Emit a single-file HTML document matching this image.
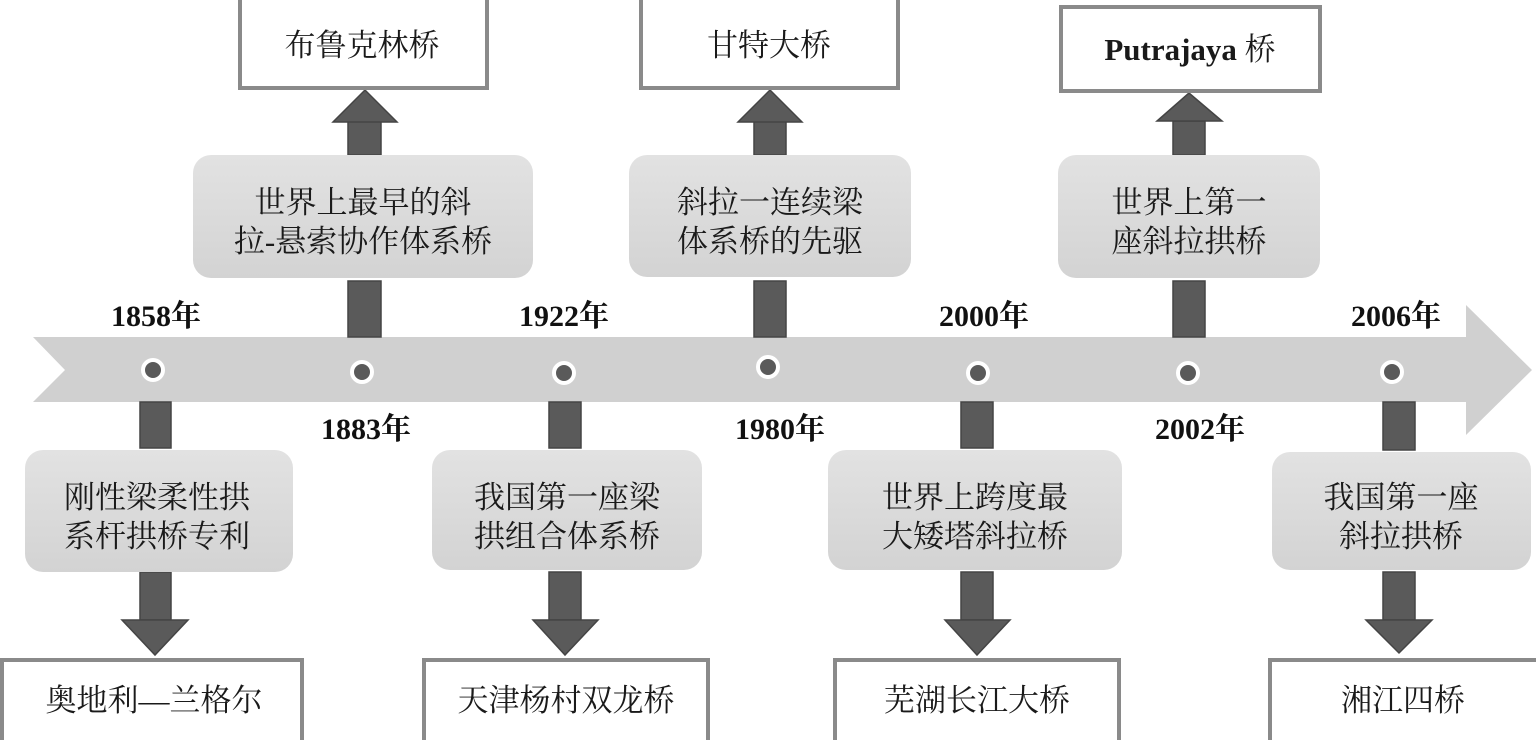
<!DOCTYPE html>
<html><head><meta charset="utf-8"><style>
html,body{margin:0;padding:0;background:#fff;}
svg{display:block;}
.cn{font-family:"Liberation Serif","Noto Serif CJK SC","Noto Sans CJK SC",serif;font-size:31px;fill:#1a1a1a;}
.yr{font-family:"Liberation Serif","Noto Serif CJK SC",serif;font-size:30px;font-weight:bold;fill:#111;}
</style></head><body>
<svg width="1536" height="740" viewBox="0 0 1536 740" xmlns="http://www.w3.org/2000/svg">
<defs>
<linearGradient id="g" x1="0" y1="0" x2="0" y2="1"><stop offset="0" stop-color="#e2e2e2"/><stop offset="1" stop-color="#d3d3d3"/></linearGradient>
</defs>
<polygon points="33,337 1466,337 1466,305 1532,370 1466,435 1466,402 33,402 65,370" fill="#d0d0d0"/>

<g fill="#5a5a5a" stroke="#444" stroke-width="1.5">
<rect x="140" y="402" width="31" height="46"/>
<rect x="140" y="572" width="31" height="48"/>
<polygon points="122,620 188,620 155,655"/>
<rect x="549" y="402" width="32" height="46"/>
<rect x="549" y="572" width="32" height="48"/>
<polygon points="533,620 598,620 565,655"/>
<rect x="961" y="402" width="32" height="46"/>
<rect x="961" y="572" width="32" height="48"/>
<polygon points="945,620 1010,620 977,655"/>
<rect x="1383" y="402" width="32" height="48"/>
<rect x="1383" y="572" width="32" height="48"/>
<polygon points="1366,620 1432,620 1399,653"/>
<rect x="348" y="281" width="33" height="56"/>
<rect x="348" y="121" width="33" height="34"/>
<polygon points="333,122 397,122 365,90"/>
<rect x="754" y="281" width="32" height="56"/>
<rect x="754" y="121" width="32" height="34"/>
<polygon points="738,122 802,122 770,90"/>
<rect x="1173" y="281" width="32" height="56"/>
<rect x="1173" y="121" width="32" height="34"/>
<polygon points="1157,121 1222,121 1189,93"/>
</g>

<g fill="#5a5a5a" stroke="#fff" stroke-width="4">
<circle cx="153" cy="370" r="10"/>
<circle cx="362" cy="372" r="10"/>
<circle cx="564" cy="373" r="10"/>
<circle cx="768" cy="367" r="10"/>
<circle cx="978" cy="373" r="10"/>
<circle cx="1188" cy="373" r="10"/>
<circle cx="1392" cy="372" r="10"/>
</g>

<g fill="url(#g)">
<rect x="25" y="450" width="268" height="122" rx="18"/>
<rect x="432" y="450" width="270" height="120" rx="18"/>
<rect x="828" y="450" width="294" height="120" rx="18"/>
<rect x="1272" y="452" width="259" height="118" rx="18"/>
<rect x="193" y="155" width="340" height="123" rx="18"/>
<rect x="629" y="155" width="282" height="122" rx="18"/>
<rect x="1058" y="155" width="262" height="123" rx="18"/>
</g>

<g fill="#fff" stroke="#8a8a8a" stroke-width="4">
<rect x="2" y="660" width="300" height="82"/>
<rect x="424" y="660" width="284" height="82"/>
<rect x="835" y="660" width="284" height="82"/>
<rect x="1270" y="660" width="268" height="82"/>
<rect x="240" y="-4" width="247" height="92"/>
<rect x="641" y="-4" width="257" height="92"/>
<rect x="1061" y="7" width="259" height="84"/>
</g>

<g class="cn" text-anchor="middle">
<text x="157" y="508">刚性梁柔性拱</text>
<text x="157" y="547">系杆拱桥专利</text>
<text x="567" y="508">我国第一座梁</text>
<text x="567" y="547">拱组合体系桥</text>
<text x="975" y="508">世界上跨度最</text>
<text x="975" y="547">大矮塔斜拉桥</text>
<text x="1401" y="508">我国第一座</text>
<text x="1401" y="547">斜拉拱桥</text>
<text x="363" y="213">世界上最早的斜</text>
<text x="363" y="252">拉-悬索协作体系桥</text>
<text x="770" y="213">斜拉一连续梁</text>
<text x="770" y="252">体系桥的先驱</text>
<text x="1189" y="213">世界上第一</text>
<text x="1189" y="252">座斜拉拱桥</text>
<text x="154" y="711">奥地利—兰格尔</text>
<text x="566" y="711">天津杨村双龙桥</text>
<text x="977" y="711">芜湖长江大桥</text>
<text x="1403" y="711">湘江四桥</text>
<text x="362" y="56">布鲁克林桥</text>
<text x="769" y="56">甘特大桥</text>
<text x="1190" y="60"><tspan font-weight="bold">Putrajaya</tspan> 桥</text>
</g>

<g class="yr" text-anchor="middle">
<text x="156" y="326">1858年</text>
<text x="366" y="439">1883年</text>
<text x="564" y="326">1922年</text>
<text x="780" y="439">1980年</text>
<text x="984" y="326">2000年</text>
<text x="1200" y="439">2002年</text>
<text x="1396" y="326">2006年</text>
</g>
</svg>
</body></html>
